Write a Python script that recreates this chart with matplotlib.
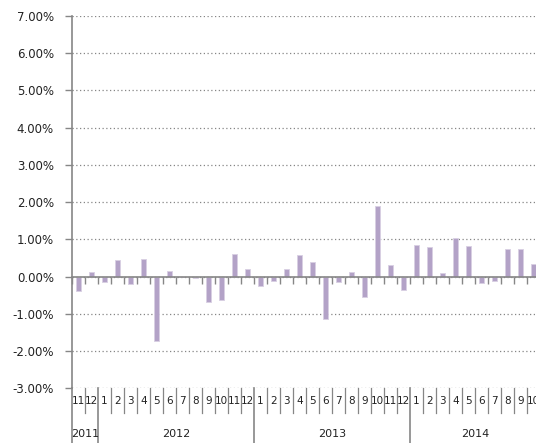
import matplotlib
matplotlib.use("Agg")
import matplotlib.pyplot as plt
import matplotlib.transforms as mtransforms
from matplotlib.ticker import FuncFormatter

years = ["2011", "2012", "2013", "2014"]
months_per_year = [
    ["11", "12"],
    ["1", "2", "3", "4", "5", "6", "7", "8", "9", "10", "11", "12"],
    ["1", "2", "3", "4", "5", "6", "7", "8", "9", "10", "11", "12"],
    ["1", "2", "3", "4", "5", "6", "7", "8", "9", "10"],
]
values = [
    -0.39, 0.12,
    -0.15, 0.44, -0.20, 0.47, -1.74, 0.14, -0.01, -0.04, -0.69, -0.63, 0.60, 0.20,
    -0.26, -0.11, 0.20, 0.58, 0.40, -1.15, -0.14, 0.12, -0.56, 1.91, 0.31, -0.35,
    0.86, 0.80, 0.09, 1.04, 0.81, -0.17, -0.13, 0.73, 0.75, 0.33,
]
yticks = [-3, -2, -1, 0, 1, 2, 3, 4, 5, 6, 7]

W, H = 536, 443
fig = plt.figure(figsize=(W / 100, H / 100), dpi=100)
left_px, right_px, top_px, bot_px = 72, 540, 16, 388.3
ax = fig.add_axes([left_px / W, 1 - bot_px / H, (right_px - left_px) / W, (bot_px - top_px) / H])

labels = [m for ms in months_per_year for m in ms]
n = len(labels)
x = list(range(n))
axis_col = "#868686"
ax.bar(x, values, width=0.42, color="#B3A2C7", edgecolor="#D8CFE3", linewidth=0.6, zorder=3)

ax.set_xlim(-0.5, n - 0.5)
ax.set_ylim(-3, 7)
ax.set_yticks(yticks)
ax.yaxis.set_major_formatter(FuncFormatter(lambda v, p: f"{v:.2f}%"))
ax.yaxis.grid(True, color=axis_col, linestyle=(0, (1, 2)), linewidth=0.9)
ax.set_axisbelow(True)

for s in ["top", "right"]:
    ax.spines[s].set_visible(False)
ax.spines["left"].set_color(axis_col)
ax.spines["left"].set_linewidth(1.2)
ax.spines["bottom"].set_position(("data", 0))
ax.spines["bottom"].set_color(axis_col)
ax.spines["bottom"].set_linewidth(1.2)
ax.spines["bottom"].set_zorder(4)

ax.set_xticks([i - 0.5 for i in range(n + 1)])
ax.tick_params(axis="x", direction="out", length=5, color=axis_col, width=1.0, labelbottom=False)
ax.tick_params(axis="y", direction="out", length=5, color=axis_col, width=1.0, labelsize=8.5,
               labelcolor="#222222", pad=8)

trans = mtransforms.blended_transform_factory(ax.transData, fig.transFigure)
y_axis_bottom = 1 - bot_px / H
y_month = 1 - 401 / H
y_month_sep = 1 - 413 / H
y_year = 1 - 434 / H

for i, lab in enumerate(labels):
    ax.text(i, y_month, lab, transform=trans, ha="center", va="center", fontsize=7.5,
            color="#222222", clip_on=False)

# separators
year_bounds = [-0.5]
c = -0.5
for ms in months_per_year:
    c += len(ms)
    year_bounds.append(c)
for i in range(n + 1):
    b = i - 0.5
    if b in year_bounds:
        ax.plot([b, b], [y_axis_bottom, 0], transform=trans, color=axis_col, lw=1.2, clip_on=False)
    else:
        ax.plot([b, b], [y_axis_bottom, y_month_sep], transform=trans, color=axis_col, lw=0.9,
                clip_on=False)

start = -0.5
for yr, ms in zip(years, months_per_year):
    mid = start + len(ms) / 2
    ax.text(mid, y_year, yr, transform=trans, ha="center", va="center", fontsize=8,
            color="#222222", clip_on=False)
    start += len(ms)

fig.savefig("out.png", dpi=100)
